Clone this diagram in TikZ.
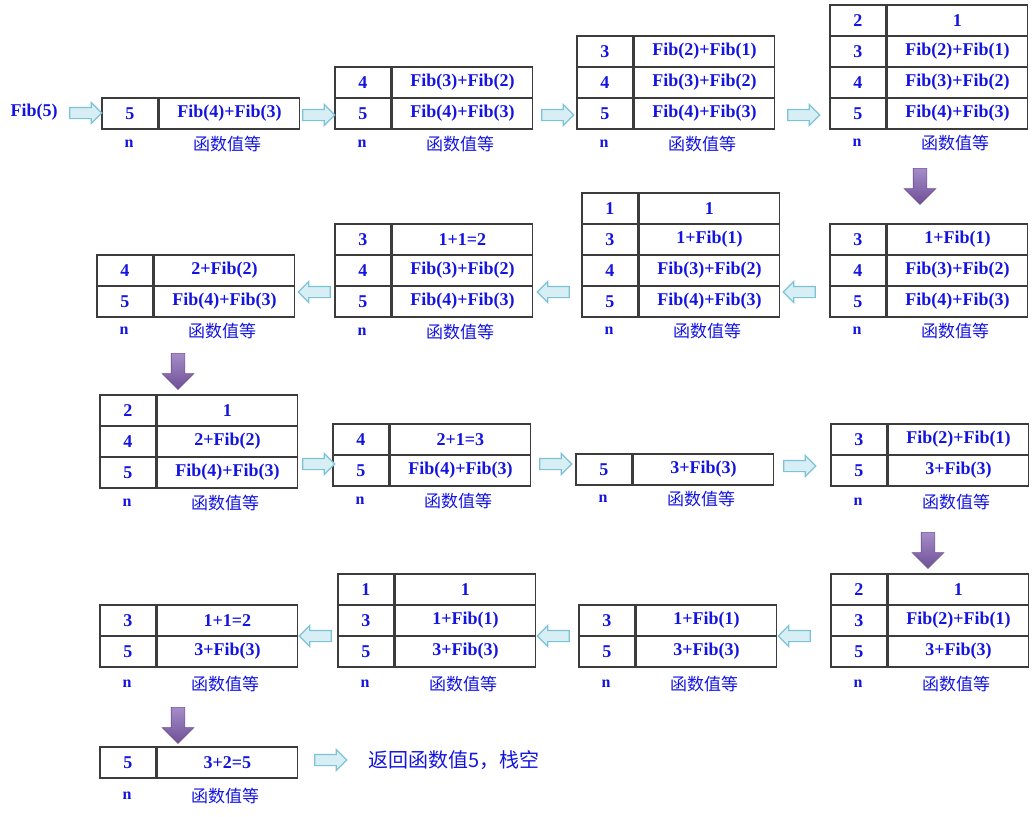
\documentclass[tikz,border=0pt]{standalone}
\usepackage{fontspec}
\setmainfont{Liberation Serif}
\newfontfamily\cjk{Noto Sans CJK SC}
\usetikzlibrary{shapes.arrows,calc}
\definecolor{txtblue}{RGB}{20,20,225}
\definecolor{cellline}{RGB}{60,60,60}
\definecolor{arrline}{RGB}{125,195,215}
\definecolor{arrfill}{RGB}{215,238,244}
\definecolor{purtop}{RGB}{165,140,200}
\definecolor{purbot}{RGB}{110,80,150}
\tikzset{
  cellbase/.style={draw=cellline, line width=1.6pt, minimum height=31, inner sep=0pt,
     anchor=north west, text=txtblue, font=\fontsize{18}{20}\selectfont\bfseries},
  ncell/.style={cellbase, minimum width=56},
  fcell/.style={cellbase, minimum width=140},
  lbl/.style={text=txtblue, inner sep=0pt},
  nlbl/.style={lbl, font=\fontsize{16}{18}\selectfont\bfseries},
  flbl/.style={lbl, font=\fontsize{17}{19}\selectfont\cjk},
  harrow/.style={single arrow, draw=arrline, fill=arrfill, line width=1.2pt,
     minimum height=32, inner sep=5pt, single arrow head extend=5pt},
  rarrow/.style={harrow},
  larrow/.style={harrow, shape border rotate=180},
  darrow/.style={single arrow, draw=purbot, top color=purtop, bottom color=purbot,
     line width=0.6pt, shape border rotate=270, minimum height=36, inner sep=6.5pt,
     single arrow head extend=9pt}
}
\newcommand\stk[5]{% name, x, ytop, rows, label y
  \foreach \nv/\fv [count=\i] in {#4}{
    \node[ncell] (#1n\i) at (#2,{#3+31*(\i-1)}) {\nv};
    \node[fcell] (#1f\i) at (#1n\i.north east) {\fv};
  }
  \node[nlbl] (#1ln) at ({#2+28},#5) {n};
  \node[flbl] (#1lf) at ({#2+126},#5) {函数值等};
}
\begin{document}
\begin{tikzpicture}[x=1pt,y=-1pt]
\useasboundingbox[fill=white] (0,0) rectangle (1032,816);
% row 1
\node[text=txtblue, font=\fontsize{18}{20}\selectfont\bfseries] (start) at (34,112) {Fib(5)};
\stk{A}{101}{97}{5/Fib(4)+Fib(3)}{144}
\stk{B}{334}{66}{4/Fib(3)+Fib(2),5/Fib(4)+Fib(3)}{144}
\stk{C}{576}{35}{3/Fib(2)+Fib(1),4/Fib(3)+Fib(2),5/Fib(4)+Fib(3)}{144}
\stk{D}{829}{4}{2/1,3/Fib(2)+Fib(1),4/Fib(3)+Fib(2),5/Fib(4)+Fib(3)}{143}
% row 2
\stk{E}{829}{223}{3/1+Fib(1),4/Fib(3)+Fib(2),5/Fib(4)+Fib(3)}{331}
\stk{F}{581}{192}{1/1,3/1+Fib(1),4/Fib(3)+Fib(2),5/Fib(4)+Fib(3)}{331}
\stk{G}{334}{223}{3/1+1=2,4/Fib(3)+Fib(2),5/Fib(4)+Fib(3)}{332}
\stk{H}{96}{254}{4/2+Fib(2),5/Fib(4)+Fib(3)}{331}
% row 3
\stk{I}{99}{394}{2/1,4/2+Fib(2),5/Fib(4)+Fib(3)}{503}
\stk{J}{332}{423}{4/2+1=3,5/Fib(4)+Fib(3)}{501}
\stk{K}{575}{453}{5/3+Fib(3)}{499}
\stk{L}{830}{423}{3/Fib(2)+Fib(1),5/3+Fib(3)}{502}
% row 4
\stk{M}{830}{573}{2/1,3/Fib(2)+Fib(1),5/3+Fib(3)}{684}
\stk{N}{578}{604}{3/1+Fib(1),5/3+Fib(3)}{684}
\stk{O}{337}{573}{1/1,3/1+Fib(1),5/3+Fib(3)}{684}
\stk{P}{99}{604}{3/1+1=2,5/3+Fib(3)}{684}
% row 5
\stk{Q}{99}{746}{5/3+2=5}{796}
\node[text=txtblue, font=\fontsize{20}{22}\selectfont\cjk] (ret) at (454,760) {返回函数值5，栈空};
% arrows row 1
\node[rarrow] (a1) at (83,113) {};
\node[rarrow] (a2) at (316,115) {};
\node[rarrow] (a3) at (555,115) {};
\node[rarrow] (a4) at (801,115) {};
\node[darrow] (d1) at (920,183) {};
% row 2
\node[larrow] (a5) at (802,292) {};
\node[larrow] (a6) at (556,292) {};
\node[larrow] (a7) at (317,292) {};
\node[darrow] (d2) at (178,368) {};
% row 3
\node[rarrow] (a8) at (316,464) {};
\node[rarrow] (a9) at (553,464) {};
\node[rarrow] (a10) at (797,466) {};
\node[darrow] (d3) at (928,547) {};
% row 4
\node[larrow] (a11) at (797,636) {};
\node[larrow] (a12) at (556,636) {};
\node[larrow] (a13) at (318,636) {};
\node[darrow] (d4) at (178,722) {};
% row 5
\node[rarrow] (a14) at (328,760) {};
\end{tikzpicture}
\end{document}
